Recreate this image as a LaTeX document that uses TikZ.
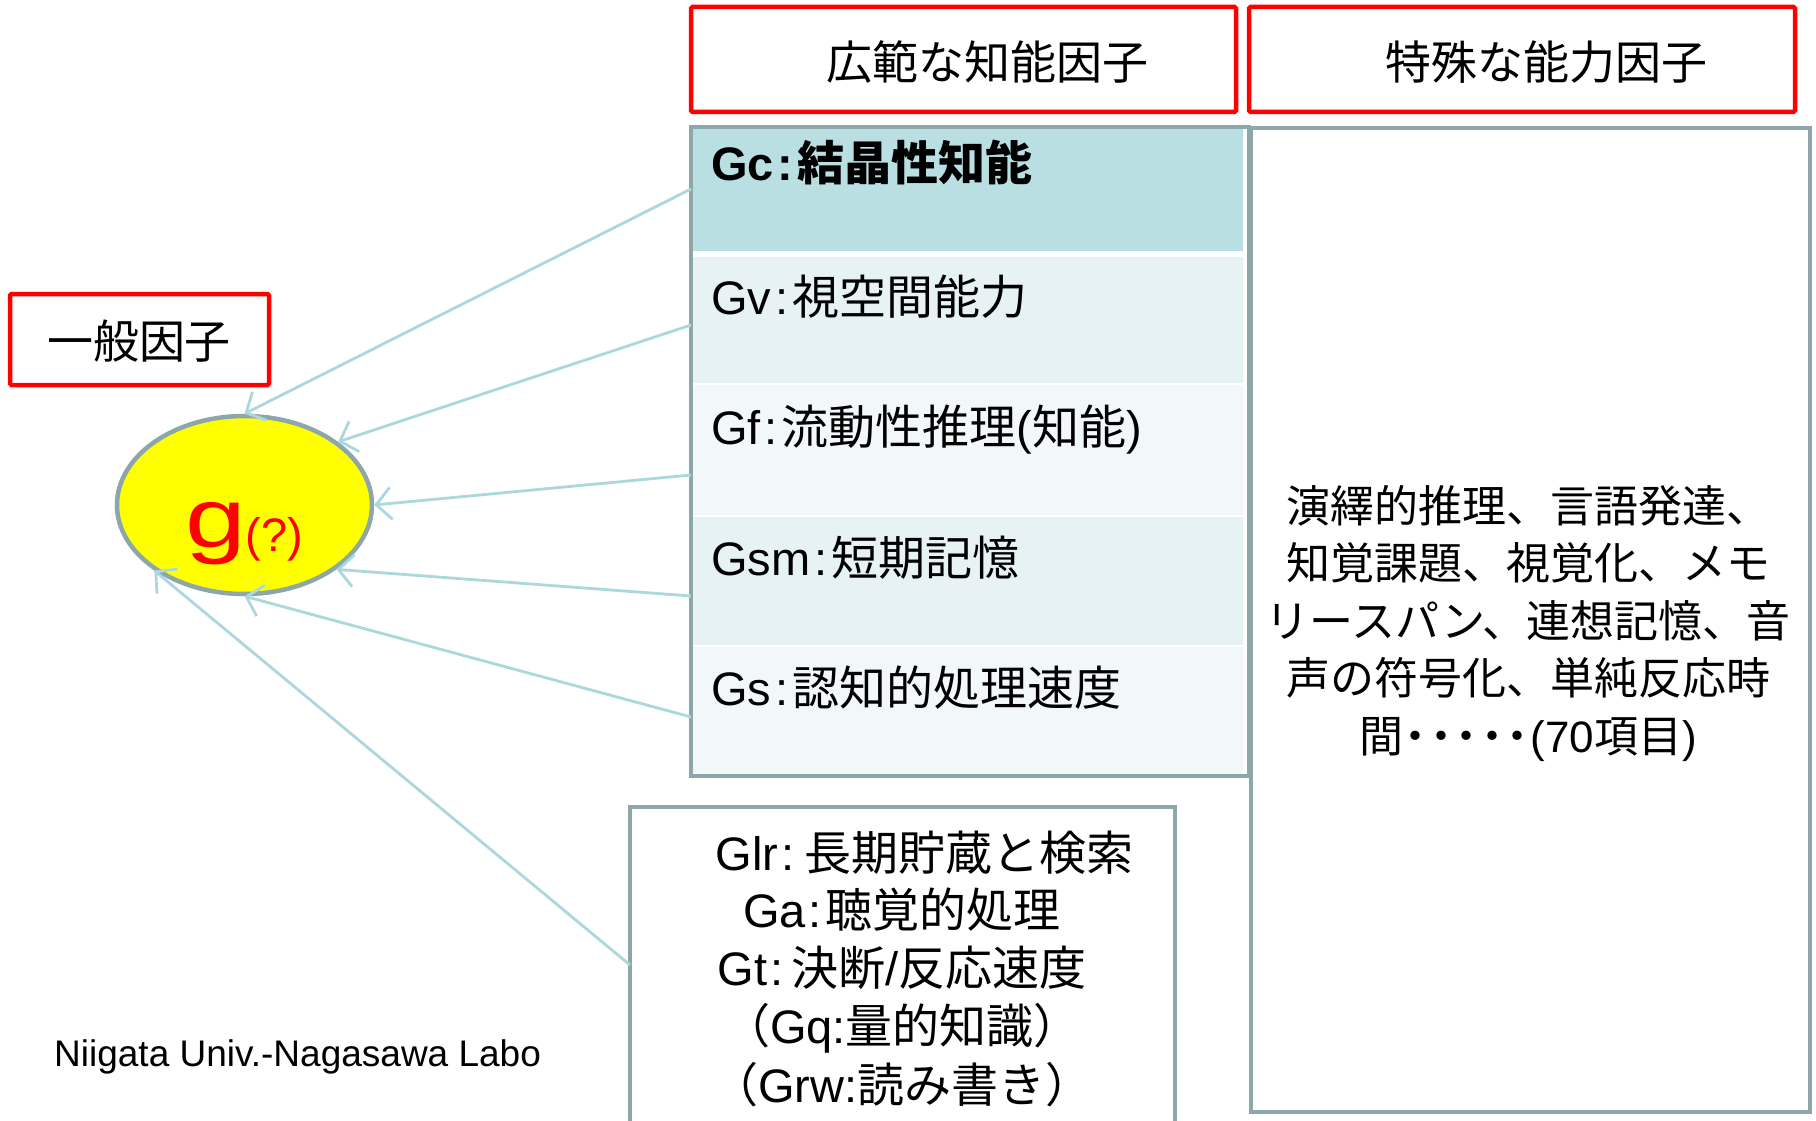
\documentclass[tikz,border=0pt]{standalone}
\usepackage{fontspec}
\setmainfont{Liberation Sans}
\newfontfamily\ja{Noto Sans CJK JP}
\newfontfamily\lat{Liberation Sans}
\usetikzlibrary{arrows.meta,shapes.geometric}
\definecolor{boxgray}{HTML}{8CA6A9}
\definecolor{arrowblue}{HTML}{AAD8DC}
\definecolor{rowA}{HTML}{B9DFE3}
\definecolor{rowB}{HTML}{E6F2F4}
\definecolor{rowC}{HTML}{F2F8FA}
\definecolor{redbox}{HTML}{FF0000}
\definecolor{gyellow}{HTML}{FFFF00}
\newcommand{\fsz}[1]{\fontsize{#1}{#1}\selectfont}
\newcommand{\nd}{\makebox[0.58em]{・}}
\begin{document}
\begin{tikzpicture}[x=1pt,y=-1pt,
  redframe/.style={draw=redbox, line width=4.5pt, rounded corners=1.5pt, inner sep=0pt},
  grayframe/.style={draw=boxgray, line width=4.5pt, inner sep=0pt},
  rowbox/.style={inner sep=0pt, anchor=north west, minimum width=550},
  rowtext/.style={anchor=base west, inner sep=0pt, font=\fsz{47}},
  lowtext/.style={anchor=base, inner sep=0pt, font=\fsz{47}},
  hdr/.style={inner sep=0pt, font=\ja\fsz{46}},
  conn/.style={draw=arrowblue, line width=2.8pt, -{Straight Barb[length=15pt,width=32pt]}}
]
\useasboundingbox (0,0) rectangle (1816,1121);
\clip (0,0) rectangle (1816,1121);

% red header boxes
\node[redframe, minimum width=259, minimum height=91] (gen) at (139.5,339.5) {};
\node[hdr] (gent) at (139,341) {一般因子};
\node[redframe, minimum width=545, minimum height=105] (h1) at (963.5,59.5) {};
\node[hdr] (h1t) at (987,62) {広範な知能因子};
\node[redframe, minimum width=546, minimum height=105] (h2) at (1522,59.5) {};
\node[hdr] (h2t) at (1546,62) {特殊な能力因子};

% table rows
\node[rowbox, fill=rowA, minimum height=122] (r1) at (693,129) {};
\node[rowbox, fill=rowB, minimum height=126] (r2) at (693,257) {};
\node[rowbox, fill=rowC, minimum height=130] (r3) at (693,385) {};
\node[rowbox, fill=rowB, minimum height=128] (r4) at (693,517) {};
\node[rowbox, fill=rowC, minimum height=127] (r5) at (693,647) {};
\node[grayframe, minimum width=558, minimum height=649] (tbl) at (970,451.5) {};

\node[rowtext] (t1) at (711,181) {\bfseries Gc\hspace{4pt}:\hspace{4pt}{\ja\bfseries 結晶性知能}};
\node[rowtext] (t2) at (711,314) {Gv\hspace{4pt}:\hspace{4pt}{\ja 視空間能力}};
\node[rowtext] (t3) at (711,444) {Gf\hspace{4pt}:\hspace{4pt}{\ja 流動性推理}({\ja 知能})};
\node[rowtext] (t4) at (711,575) {Gsm\hspace{4pt}:\hspace{4pt}{\ja 短期記憶}};
\node[rowtext] (t5) at (711,705) {Gs\hspace{4pt}:\hspace{4pt}{\ja 認知的処理速度}};

% right box
\node[grayframe, minimum width=559, minimum height=984] (sp) at (1530.5,620) {};
\node[align=center, inner sep=0pt, font={\ja\fontsize{44}{57.5}\selectfont}] (spt) at (1528,623)
  {演繹的推理、言語発達、\\知覚課題、視覚化、メモ\\リースパン、連想記憶、音\\声の符号化、単純反応時\\間\nd\nd\nd\nd\nd{\lat (70}項目{\lat )}};

% lower box
\node[grayframe, minimum width=545, minimum height=330] (low) at (902.5,972) {};
\node[lowtext] (l1) at (924.5,870) {Glr\hspace{3pt}:\hspace{10pt}{\ja 長期貯蔵と検索}};
\node[lowtext] (l2) at (902,927) {Ga\hspace{3pt}:\hspace{4pt}{\ja 聴覚的処理}};
\node[lowtext] (l3) at (902,985) {Gt\hspace{3pt}:\hspace{8pt}{\ja 決断}/{\ja 反応速度}};
\node[lowtext] (l4) at (902,1043) {{\ja （}Gq:{\ja 量的知識）}};
\node[lowtext] (l5) at (902,1102) {{\ja （}Grw:{\ja 読み書き）}};

% ellipse g
\node[ellipse, draw=boxgray, line width=4.5pt, fill=gyellow, minimum width=255, minimum height=178, inner sep=0pt] (g) at (244.5,505) {};
\node[anchor=base west, inner sep=0pt, text=red] (gt) at (185,547)
  {\fsz{84}\scalebox{1.3}[1]{g}\fsz{47}\raisebox{-4pt}{(?)}};

% connectors
\coordinate (s1) at (691,189);
\coordinate (s2) at (691,325);
\coordinate (s3) at (691,475);
\coordinate (s4) at (691,596);
\coordinate (s5) at (691,717);
\coordinate (s6) at (630,965);
\draw[conn] (s1) -- (g.90);
\draw[conn] (s2) -- (g.34);
\draw[conn] (s3) -- (g.0);
\draw[conn] (s4) -- (g.-35);
\draw[conn] (s5) -- (g.-90);
\draw[conn] (s6) -- (g.-144);

% footer
\node[anchor=base west, inner sep=0pt, font=\fsz{37}] (lab) at (54,1066) {Niigata Univ.-Nagasawa Labo};
\end{tikzpicture}
\end{document}
